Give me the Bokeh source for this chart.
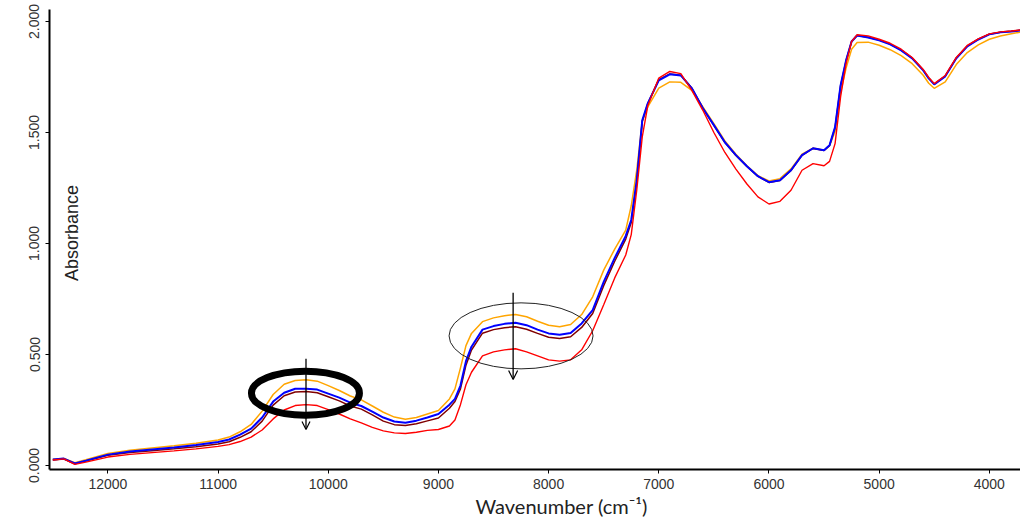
import math
from bokeh.plotting import figure
from bokeh.models import Range1d, FixedTicker, NumeralTickFormatter, Label, Arrow, OpenHead, Title
from bokeh.embed import file_html
from bokeh.resources import INLINE

# ---------------- data ----------------
wavenumber = [12500, 12400, 12300, 12200, 12000, 11800, 11600, 11400, 11200, 11000,
              10900, 10800, 10700, 10600, 10500, 10400, 10300, 10200, 10100, 10000,
              9900, 9800, 9700, 9600, 9500, 9400, 9300, 9200, 9100, 9000,
              8900, 8850, 8800, 8750, 8700, 8600, 8500, 8400, 8300, 8200,
              8100, 8000, 7900, 7800, 7700, 7600, 7500, 7400, 7300, 7250,
              7200, 7150, 7100, 7000, 6900, 6800, 6700, 6600, 6500, 6400,
              6300, 6200, 6100, 6000, 5900, 5800, 5700, 5600, 5500, 5450,
              5400, 5350, 5300, 5250, 5200, 5100, 5000, 4900, 4800, 4700,
              4600, 4550, 4500, 4400, 4300, 4200, 4100, 4000, 3900, 3800, 3720]

abs_orange = [0.028, 0.032, 0.013, 0.026, 0.054, 0.069, 0.079, 0.089, 0.100, 0.115,
              0.128, 0.152, 0.185, 0.245, 0.320, 0.366, 0.383, 0.386, 0.380, 0.360,
              0.338, 0.313, 0.296, 0.268, 0.240, 0.218, 0.208, 0.216, 0.232, 0.248,
              0.300, 0.345, 0.440, 0.540, 0.595, 0.648, 0.665, 0.675, 0.680, 0.670,
              0.650, 0.632, 0.625, 0.635, 0.680, 0.760, 0.880, 0.975, 1.060, 1.170,
              1.330, 1.550, 1.615, 1.700, 1.728, 1.726, 1.690, 1.615, 1.540, 1.462,
              1.402, 1.350, 1.306, 1.282, 1.292, 1.336, 1.402, 1.430, 1.420, 1.440,
              1.505, 1.680, 1.790, 1.875, 1.905, 1.907, 1.893, 1.873, 1.846, 1.810,
              1.758, 1.722, 1.699, 1.728, 1.806, 1.860, 1.895, 1.920, 1.935, 1.945, 1.952]

abs_maroon = [0.025, 0.029, 0.008, 0.020, 0.046, 0.059, 0.067, 0.075, 0.085, 0.097,
              0.107, 0.127, 0.152, 0.200, 0.272, 0.314, 0.331, 0.333, 0.328, 0.310,
              0.291, 0.268, 0.254, 0.228, 0.200, 0.184, 0.180, 0.188, 0.201, 0.214,
              0.258, 0.288, 0.345, 0.452, 0.520, 0.596, 0.612, 0.621, 0.625, 0.614,
              0.595, 0.578, 0.572, 0.580, 0.622, 0.685, 0.810, 0.920, 1.020, 1.095,
              1.275, 1.550, 1.630, 1.738, 1.764, 1.758, 1.700, 1.610, 1.532, 1.455,
              1.396, 1.347, 1.302, 1.275, 1.284, 1.329, 1.397, 1.428, 1.419, 1.442,
              1.522, 1.710, 1.824, 1.910, 1.937, 1.929, 1.916, 1.898, 1.871, 1.835,
              1.781, 1.745, 1.718, 1.754, 1.835, 1.889, 1.920, 1.943, 1.952, 1.956, 1.961]

abs_blue = [0.027, 0.031, 0.009, 0.022, 0.049, 0.063, 0.072, 0.081, 0.092, 0.106,
            0.117, 0.139, 0.166, 0.216, 0.288, 0.328, 0.346, 0.346, 0.342, 0.324,
            0.306, 0.283, 0.268, 0.243, 0.216, 0.198, 0.193, 0.202, 0.216, 0.232,
            0.274, 0.300, 0.360, 0.470, 0.535, 0.612, 0.628, 0.638, 0.643, 0.632,
            0.612, 0.595, 0.589, 0.597, 0.640, 0.700, 0.827, 0.935, 1.034, 1.106,
            1.285, 1.555, 1.631, 1.735, 1.762, 1.757, 1.699, 1.609, 1.533, 1.456,
            1.398, 1.348, 1.303, 1.276, 1.285, 1.330, 1.398, 1.429, 1.420, 1.443,
            1.524, 1.712, 1.825, 1.910, 1.937, 1.928, 1.915, 1.897, 1.870, 1.834,
            1.780, 1.744, 1.717, 1.753, 1.834, 1.888, 1.919, 1.942, 1.951, 1.955, 1.960]

abs_red = [0.025, 0.030, 0.005, 0.015, 0.038, 0.050, 0.058, 0.066, 0.075, 0.086,
           0.094, 0.108, 0.128, 0.160, 0.210, 0.250, 0.270, 0.274, 0.270, 0.252,
           0.232, 0.210, 0.192, 0.172, 0.156, 0.147, 0.144, 0.150, 0.158, 0.162,
           0.178, 0.205, 0.274, 0.364, 0.420, 0.494, 0.512, 0.521, 0.526, 0.512,
           0.494, 0.476, 0.470, 0.476, 0.521, 0.607, 0.724, 0.845, 0.948, 1.040,
           1.240, 1.480, 1.620, 1.745, 1.775, 1.765, 1.690, 1.600, 1.500, 1.410,
           1.335, 1.268, 1.210, 1.178, 1.190, 1.240, 1.330, 1.360, 1.350, 1.370,
           1.450, 1.660, 1.810, 1.910, 1.940, 1.935, 1.920, 1.902, 1.875, 1.838,
           1.784, 1.748, 1.720, 1.757, 1.838, 1.892, 1.922, 1.944, 1.953, 1.957, 1.962]

x_ticks = [12000, 11000, 10000, 9000, 8000, 7000, 6000, 5000, 4000]
y_ticks = [0.0, 0.5, 1.0, 1.5, 2.0]

series = [(abs_orange, "#FFA500", 1.5),
          (abs_maroon, "#800000", 1.5),
          (abs_blue, "#0000FF", 2.0),
          (abs_red, "#FF0000", 1.4)]

# ---------------- figure ----------------
p = figure(width=1020, height=517,
           x_range=Range1d(12530, 3717), y_range=Range1d(-0.018, 2.054),
           output_backend="svg", toolbar_location=None,
           min_border_left=49, min_border_right=0, min_border_top=9, min_border_bottom=0)
p.xgrid.visible = False
p.ygrid.visible = False
p.outline_line_color = None
p.background_fill_color = "white"
p.border_fill_color = "white"

for ys, col, lw in series:
    p.line(wavenumber, ys, line_color=col, line_width=lw)

# axes
p.xaxis.ticker = FixedTicker(ticks=x_ticks)
p.yaxis.ticker = FixedTicker(ticks=y_ticks)
p.yaxis.formatter = NumeralTickFormatter(format="0.000")
for ax in (p.xaxis[0], p.yaxis[0]):
    ax.axis_line_width = 2
    ax.axis_line_color = "black"
    ax.major_tick_line_color = "black"
    ax.major_tick_line_width = 1
    ax.major_tick_out = 4
    ax.major_tick_in = 0
    ax.minor_tick_out = 0
    ax.minor_tick_in = 0
    ax.major_label_text_font = "Liberation Sans"
    ax.major_label_text_font_size = "14px"
    ax.major_label_text_color = "#333333"
p.xaxis.major_label_standoff = 5
p.yaxis.major_label_standoff = 6
p.yaxis.major_label_orientation = "vertical"

# axis titles
p.add_layout(Title(text="Wavenumber (cm\u207b\u00b9)", align="left", offset=426,
                   text_font="Lato", text_font_size="20px", text_font_style="normal",
                   text_color="#222222", standoff=0), "below")
p.add_layout(Label(x=12327, y=1.047, text="Absorbance", angle=math.pi / 2,
                   text_font="Liberation Sans", text_font_size="18px", text_color="#222222",
                   text_align="center", text_baseline="middle"))

# annotations: ellipses and arrows
p.ellipse(x=[10207], y=[0.326], width=108, height=44,
          width_units="screen", height_units="screen",
          fill_alpha=0, line_color="black", line_width=7)
p.ellipse(x=[8250], y=[0.584], width=144, height=66,
          width_units="screen", height_units="screen",
          fill_alpha=0, line_color="#222222", line_width=1)
p.add_layout(Arrow(end=OpenHead(size=8, line_width=1.2, line_color="black"),
                   x_start=10202, y_start=0.481, x_end=10202, y_end=0.162,
                   line_width=1.3, line_color="black"))
p.add_layout(Arrow(end=OpenHead(size=9, line_width=1.2, line_color="black"),
                   x_start=8322, y_start=0.778, x_end=8322, y_end=0.387,
                   line_width=1.3, line_color="black"))

open("out.html", "w").write(file_html(p, INLINE))
